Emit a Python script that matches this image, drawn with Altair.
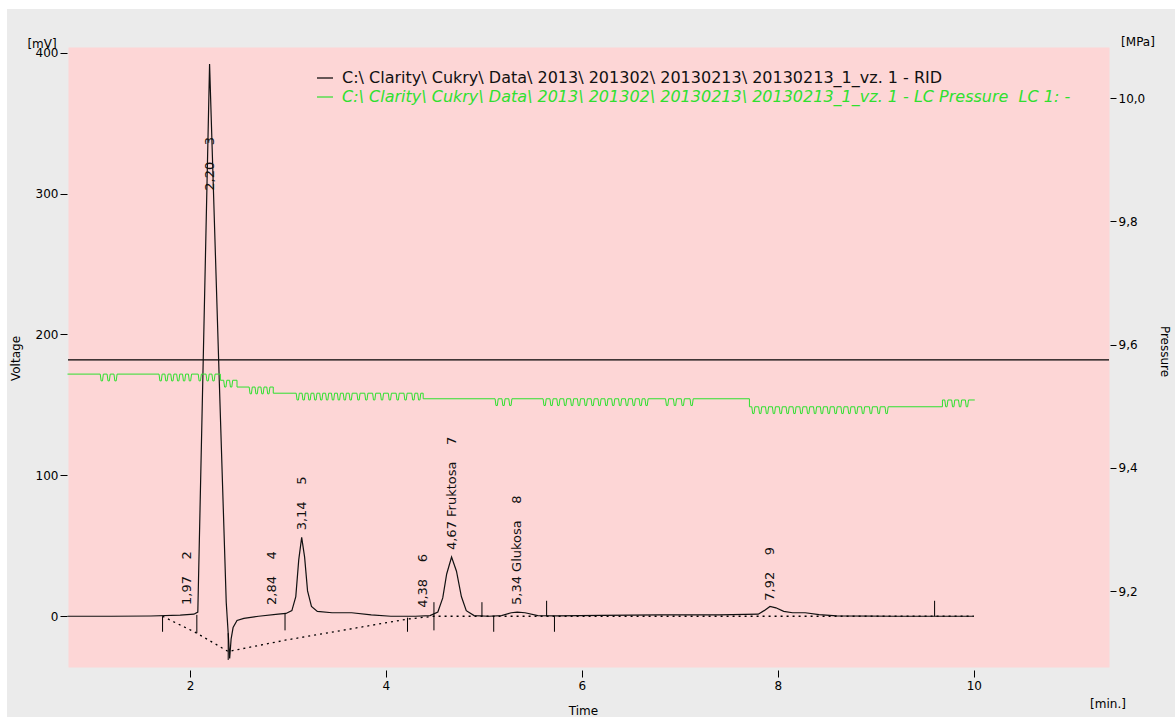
import altair as alt
import pandas as pd

# ---- RID detector signal (time in min, signal in mV) ----
rid_time = [0.75, 1.20, 1.60, 1.90, 2.04, 2.08, 2.20, 2.30, 2.37, 2.39, 2.405, 2.42,
            2.44, 2.48, 2.55, 2.70, 2.90, 2.98, 3.04, 3.08, 3.11, 3.14, 3.17, 3.20,
            3.24, 3.30, 3.45, 3.65, 3.85, 4.05, 4.30, 4.45, 4.53, 4.58, 4.62, 4.67,
            4.72, 4.77, 4.82, 4.90, 5.05, 5.18, 5.28, 5.34, 5.42, 5.55, 5.75, 6.20,
            6.80, 7.40, 7.80, 7.86, 7.92, 7.98, 8.06, 8.15, 8.28, 8.42, 8.60, 9.20, 10.0]
rid_mv = [0.0, 0.0, 0.2, 0.8, 1.5, 3.0, 392.0, 165.0, 10.0, -12.0, -30.0, -16.0,
          -8.0, -3.0, -1.5, 0.0, 1.5, 2.0, 4.0, 14.0, 40.0, 56.0, 42.0, 18.0,
          7.0, 3.5, 2.5, 2.5, 1.0, 0.0, 0.0, 0.5, 3.0, 13.0, 30.0, 42.0,
          32.0, 14.0, 4.0, 0.5, 0.0, 0.5, 2.5, 3.0, 2.5, 0.5, 0.3, 0.6,
          1.0, 1.0, 1.5, 4.0, 7.0, 6.0, 3.5, 2.5, 2.5, 1.2, 0.3, 0.0, 0.0]

# ---- integration baseline (dotted) ----
base_time = [1.72, 2.07, 2.39, 2.97, 4.22, 4.49, 4.98, 5.10, 5.64, 5.72, 10.0]
base_mv = [0.0, -12.0, -25.0, -17.0, -2.0, 0.0, 0.0, 0.0, 0.0, 0.0, 0.0]

# ---- peak start / end event marks ----
event_time = [1.72, 2.07, 2.39, 2.97, 4.22, 4.49, 4.98, 5.10, 5.64, 5.72, 9.60]
event_top = [0, 1, -12, 2, -1, 10, 10, 0, 11, 0, 11]
event_bottom = [-11, -12, -31, -10, -11, -10, 0, -11, 0, -11, 0]

# ---- peak annotations ----
peak_time = [1.97, 2.20, 2.84, 3.14, 4.38, 4.67, 5.34, 7.92]
peak_no = [2, 3, 4, 5, 6, 7, 8, 9]
peak_name = ["", "", "", "", "", "Fruktosa", "Glukosa", ""]
label_mv = [8, 302, 8, 61, 6, 47, 8, 11]

# ---- cursor line ----
cursor_mv = [182]

# ---- LC pump pressure (MPa): plateaus and the short sampling dips on each ----
p_start = [0.75, 2.31, 2.48, 2.85, 4.38, 7.71, 9.68]
p_end = [2.31, 2.48, 2.85, 4.38, 7.71, 9.68, 10.01]
p_level = [9.552, 9.542, 9.531, 9.521, 9.512, 9.499, 9.510]
p_dips = [
    [1.10, 1.17, 1.24, 1.70, 1.76, 1.82, 1.88, 1.94, 2.00, 2.10, 2.18, 2.24],
    [2.36, 2.42],
    [2.62, 2.68, 2.74, 2.80],
    [3.10, 3.16, 3.22, 3.28, 3.34, 3.40, 3.46, 3.52, 3.58, 3.64, 3.72, 3.80,
     3.88, 3.96, 4.04, 4.12, 4.20, 4.28, 4.34],
    [5.13, 5.20, 5.27, 5.62, 5.69, 5.76, 5.83, 5.90, 5.97, 6.04, 6.11, 6.18,
     6.25, 6.32, 6.39, 6.46, 6.53, 6.60, 6.66, 6.87, 6.95, 7.03, 7.12],
    [7.75, 7.82, 7.89, 7.96, 8.03, 8.10, 8.17, 8.24, 8.31, 8.38, 8.45, 8.52,
     8.59, 8.66, 8.73, 8.80, 8.87, 8.95, 9.03, 9.11],
    [9.72, 9.79, 9.86, 9.93],
]
dip_depth = 0.011

legend_rid = "C:\\ Clarity\\ Cukry\\ Data\\ 2013\\ 201302\\ 20130213\\ 20130213_1_vz. 1 - RID"
legend_pressure = ("C:\\ Clarity\\ Cukry\\ Data\\ 2013\\ 201302\\ 20130213\\ 20130213_1_vz. 1"
                   " - LC Pressure\u00a0\u00a0LC 1: -")

FONT = "DejaVu Sans"
GREEN = "#2fe02f"
W, H = 1041, 620
V_DOM = [-36, 404]
P_DOM = [9.0767, 10.0828]
X_DOM = [0.755, 11.38]

# ---- tables ----
rid = pd.DataFrame({"t": rid_time, "mv": rid_mv})
base = pd.DataFrame({"t": base_time, "mv": base_mv})
events = pd.DataFrame({"t": event_time, "top": event_top, "bottom": event_bottom})


def peak_text(t, name, no):
    num = f"{t:.2f}".replace(".", ",")
    gap = "\u00a0" * 4
    return f"{num} {name}{gap}{no}" if name else f"{num}{gap}{no}"


peaks = pd.DataFrame({
    "t": peak_time,
    "mv": label_mv,
    "label": [peak_text(t, n, k) for t, n, k in zip(peak_time, peak_name, peak_no)],
})

rows = []
for start, end, level, dips in zip(p_start, p_end, p_level, p_dips):
    rows.append((start, level))
    for t in dips:
        rows += [(t - 0.016, level), (t - 0.007, level - dip_depth),
                 (t + 0.007, level - dip_depth), (t + 0.016, level)]
    rows.append((end, level))
pressure = pd.DataFrame(rows, columns=["t", "mpa"])
pressure["i"] = range(len(pressure))

one = pd.DataFrame({"k": [0]})

x_enc = alt.X("t:Q", scale=alt.Scale(domain=X_DOM, nice=False, zero=False),
              axis=alt.Axis(values=[2, 4, 6, 8, 10], format="d", title="Time", grid=False,
                            domain=False, offset=3, tickSize=7, labelPadding=3,
                            tickColor="#000", labelColor="#000", labelFont=FONT,
                            labelFontSize=12, titleFont=FONT, titleFontSize=12,
                            titleFontWeight="normal", titleColor="#000", titleX=515,
                            titleY=40, titleAlign="center", titleBaseline="middle"))
x_plain = alt.X("t:Q", scale=alt.Scale(domain=X_DOM, nice=False, zero=False))

v_scale = alt.Scale(domain=V_DOM, nice=False, zero=False)
y_volt = alt.Y("mv:Q", scale=v_scale,
               axis=alt.Axis(values=[0, 100, 200, 300, 400], title="Voltage", grid=False,
                             domain=False, offset=1, tickSize=7, labelPadding=2,
                             tickColor="#000", labelColor="#000", labelFont=FONT,
                             labelFontSize=12, titleFont=FONT, titleFontSize=12,
                             titleFontWeight="normal", titleColor="#000", titleAngle=270,
                             titleX=-52, titleY=311, titleAlign="center",
                             titleBaseline="middle"))
y_v = alt.Y("mv:Q", scale=v_scale)

# outer white margin strips
strip_top = alt.Chart(one).mark_rect(color="white").encode(
    x=alt.value(-68), x2=alt.value(W + 66), y=alt.value(-47), y2=alt.value(-38))
strip_left = alt.Chart(one).mark_rect(color="white").encode(
    x=alt.value(-68), x2=alt.value(-61), y=alt.value(-47), y2=alt.value(H + 50))

cursor = alt.Chart(pd.DataFrame({"mv": cursor_mv})).mark_rule(
    color="#000", strokeWidth=1.2).encode(y=y_v, x=alt.value(0), x2=alt.value(W))

baseline = alt.Chart(base).mark_line(
    color="#000", strokeWidth=1.3, strokeDash=[2, 4]).encode(x=x_plain, y=y_v)

trace = alt.Chart(rid).mark_line(color="#111", strokeWidth=1.2).encode(x=x_enc, y=y_volt)

marks = alt.Chart(events).mark_rule(color="#000", strokeWidth=1).encode(
    x=x_plain, y=alt.Y("top:Q", scale=v_scale), y2="bottom:Q")

labels = alt.Chart(peaks).mark_text(
    angle=270, align="left", baseline="middle", font=FONT, fontSize=13, color="#111"
).encode(x=x_plain, y=y_v, text="label:N")

units = [
    alt.Chart(one).mark_text(text="[mV]", font=FONT, fontSize=12, color="#000",
                             align="center", baseline="middle").encode(
        x=alt.value(-26), y=alt.value(-3)),
    alt.Chart(one).mark_text(text="[MPa]", font=FONT, fontSize=12, color="#000",
                             align="center", baseline="middle").encode(
        x=alt.value(W + 29), y=alt.value(-5)),
    alt.Chart(one).mark_text(text="[min.]", font=FONT, fontSize=12, color="#000",
                             align="center", baseline="middle").encode(
        x=alt.value(W - 1), y=alt.value(H + 37)),
]

legend = [
    alt.Chart(one).mark_rule(color="#000", strokeWidth=1.2).encode(
        x=alt.value(249), x2=alt.value(265), y=alt.value(31)),
    alt.Chart(one).mark_text(text=legend_rid, font=FONT, fontSize=16, color="#111",
                             align="left", baseline="middle").encode(
        x=alt.value(274), y=alt.value(31)),
    alt.Chart(one).mark_rule(color=GREEN, strokeWidth=1.2).encode(
        x=alt.value(249), x2=alt.value(265), y=alt.value(50)),
    alt.Chart(one).mark_text(text=legend_pressure, font=FONT, fontSize=16, color=GREEN,
                             fontStyle="italic", align="left", baseline="middle").encode(
        x=alt.value(274), y=alt.value(50)),
]

volt_layer = alt.layer(strip_top, strip_left, cursor, baseline, trace, marks, labels,
                       *units, *legend)

press_layer = alt.Chart(pressure).mark_line(color=GREEN, strokeWidth=1).encode(
    x=x_plain,
    y=alt.Y("mpa:Q", scale=alt.Scale(domain=P_DOM, nice=False, zero=False),
            axis=alt.Axis(orient="right", values=[9.2, 9.4, 9.6, 9.8, 10.0],
                          labelExpr="replace(format(datum.value, '.1f'), '.', ',')",
                          title="Pressure", grid=False, domain=False, offset=1,
                          tickSize=6, labelPadding=2, tickColor="#000", labelColor="#000",
                          labelFont=FONT, labelFontSize=12, titleFont=FONT,
                          titleFontSize=12, titleFontWeight="normal", titleColor="#000",
                          titleAngle=90, titleX=54, titleY=304, titleAlign="center",
                          titleBaseline="middle")),
    order="i:Q",
)

chart = alt.layer(volt_layer, press_layer).resolve_scale(y="independent").properties(
    width=W, height=H,
    autosize=alt.AutoSizeParams(type="none"),
    padding={"left": 68, "top": 47, "right": 66, "bottom": 50},
    background="#ebebeb",
).configure_view(fill="#fdd6d6", stroke="transparent")

chart.save("out.html", embed_options={"renderer": "svg", "actions": False})
